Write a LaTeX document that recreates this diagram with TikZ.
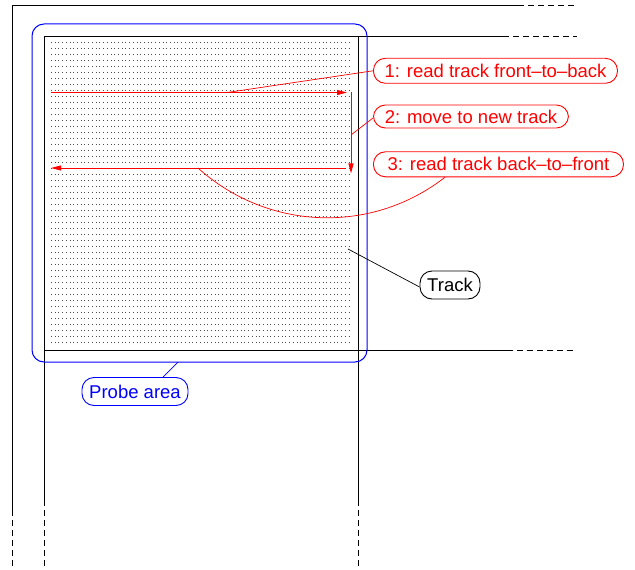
\documentclass[tikz,border=0pt]{standalone}
\usepackage{fontspec}
\setmainfont{Liberation Sans}
\usetikzlibrary{arrows.meta,calc}
\begin{document}
\begin{tikzpicture}[x=1bp,y=-1bp,
  frame/.style={line width=0.9bp, black},
  dashfr/.style={line width=0.9bp, black, dash pattern=on 6bp off 4bp},
  lab/.style={draw, rounded corners=12bp, line width=0.9bp, anchor=west, inner sep=0pt,
    font=\fontsize{18.5bp}{22bp}\selectfont},
  redlab/.style={lab, red, text=red},
  movearrow/.style={red, line width=0.9bp, -{Triangle[length=10bp,width=5bp]}},
  ptr/.style={line width=0.7bp},
  dotrow/.style={line width=1bp, black!70, dash pattern=on 1bp off 2.72bp}]
\useasboundingbox (0,0) rectangle (635,570);
% outer frame
\draw[frame] (12,510) -- (12,5) -- (518,5);
\draw[dashfr] (518,5) -- (577,5);
\draw[dashfr] (12,510) -- (12,570);
% inner frame
\draw[frame] (503,36) -- (44,36) -- (44,500);
\draw[dashfr] (503,36) -- (577,36);
\draw[dashfr] (44,500) -- (44,570);
\draw[frame] (358,36) -- (358,500);
\draw[dashfr] (358,500) -- (358,570);
\draw[frame] (44,350) -- (507,350);
\draw[dashfr] (507,350) -- (577,350);
% dot grid
\foreach \r in {0,...,50}
  \draw[dotrow] (51,{42.7+6*\r}) -- (350,{42.7+6*\r});
% probe area
\draw[blue, line width=1bp, rounded corners=12bp] (32,24) rectangle (367,362);
\coordinate (pb) at (178,362);
% movements
\coordinate (m1s) at (51,92.5);
\coordinate (m1e) at (347,92.5);
\coordinate (m2s) at (351,92.5);
\coordinate (m2e) at (351,173.5);
\coordinate (m3s) at (345,168);
\coordinate (m3e) at (51,168);
\draw[movearrow] (m1s) -- (m1e);
\draw[movearrow] (m2s) -- (m2e);
\draw[movearrow] (m3s) -- (m3e);
\coordinate (p1) at (227,92.5);
\coordinate (p2) at (351,135);
\coordinate (p3) at (198,168);
\coordinate (pt) at (348,249);
% labels
\node[redlab, minimum width=244bp, minimum height=25bp] (l1) at (373,70.8) {1: read track front--to--back};
\node[redlab, minimum width=195bp, minimum height=23bp] (l2) at (373,116.5) {2: move to new track};
\node[redlab, minimum width=250bp, minimum height=25bp] (l3) at (373,164.3) {3: read track back--to--front};
\node[lab, minimum width=60bp, minimum height=28bp, anchor=center] (tr) at (450,285) {Track};
\node[lab, blue, text=blue, minimum width=106bp, minimum height=28bp, anchor=center] (pa) at (135,391.5) {Probe area};
% pointers
\draw[ptr, red] (l1.west) -- (p1);
\draw[ptr, red] ($(l2.west)+(0,1.5)$) -- (p2);
\draw[ptr, red] (p3) .. controls (267.5,230.6) and (371.2,234.7) .. ($(l3.south west)+(72,0)$);
\draw[ptr, black] ($(tr.west)+(0,2)$) -- (pt);
\draw[ptr, blue] ($(pa.north)+(28,0)$) -- (pb);
\end{tikzpicture}
\end{document}
